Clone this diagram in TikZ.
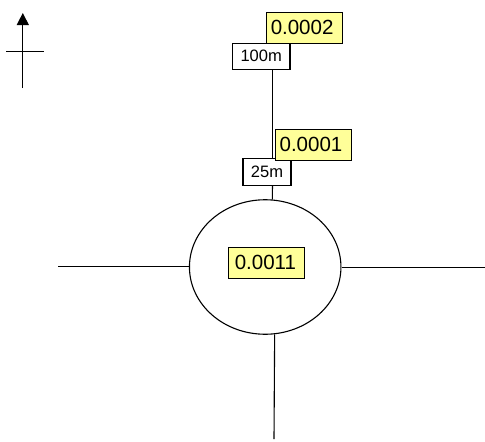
\documentclass[tikz,border=0pt]{standalone}
\usepackage{fontspec}
\setmainfont{Liberation Sans}
\usetikzlibrary{shapes.geometric,arrows.meta}
\definecolor{valueyellow}{HTML}{FFFF99}
\newcommand{\lifted}[2]{\hspace{#1}\raisebox{1.2pt}{#2}}
\tikzset{
  road/.style={draw=black,line width=1.1pt},
  valuebox/.style={draw=black,line width=1.1pt,fill=valueyellow,minimum width=76pt,minimum height=31pt,inner sep=0pt,font=\fontsize{20.5}{21}\selectfont},
  distbox/.style={draw=black,line width=1.1pt,fill=white,minimum height=26.5pt,inner sep=0pt,font=\fontsize{16.5}{17}\selectfont},
  junction/.style={draw=black,line width=1.1pt,ellipse,fill=white,minimum width=151.5pt,minimum height=134.5pt,inner sep=0pt}
}
\begin{document}
\begin{tikzpicture}[x=1pt,y=-1pt]
\useasboundingbox (0,0) rectangle (485,442);
\coordinate (w) at (58,266.5);
\coordinate (e) at (485,267.5);
\coordinate (s) at (274,439);
\coordinate (nb) at (22.8,88);
\coordinate (nt) at (22.8,13);
\coordinate (cl) at (6,51.5);
\coordinate (cr) at (44,51.5);
\node[junction] (c) at (265.2,267) {};
\node[distbox,minimum width=57.5pt] (d100) at (261.2,56.5) {\lifted{0pt}{100m}};
\node[distbox,minimum width=48pt] (d25) at (267,172) {\lifted{0pt}{25m}};
\draw[road] ([xshift=11.3pt]d100.south) -- ([xshift=5.5pt]d25.north);
\draw[road] ([xshift=5.5pt]d25.south) -- (c.84);
\draw[road] (c.west |- w) -- (w);
\draw[road] (c.east |- e) -- (e);
\draw[road] (c.-82.5) -- (s);
\node[valuebox] (v2) at (304.6,28.3) {\lifted{-5pt}{0.0002}};
\node[valuebox] (v1) at (313.5,145.2) {\lifted{-5pt}{0.0001}};
\node[valuebox] (v0) at (266.4,263.4) {\lifted{-2pt}{0.0011}};
\draw[road,-{Triangle[length=12pt,width=12pt]}] (nb) -- (nt);
\draw[road] (cl) -- (cr);
\end{tikzpicture}
\end{document}
